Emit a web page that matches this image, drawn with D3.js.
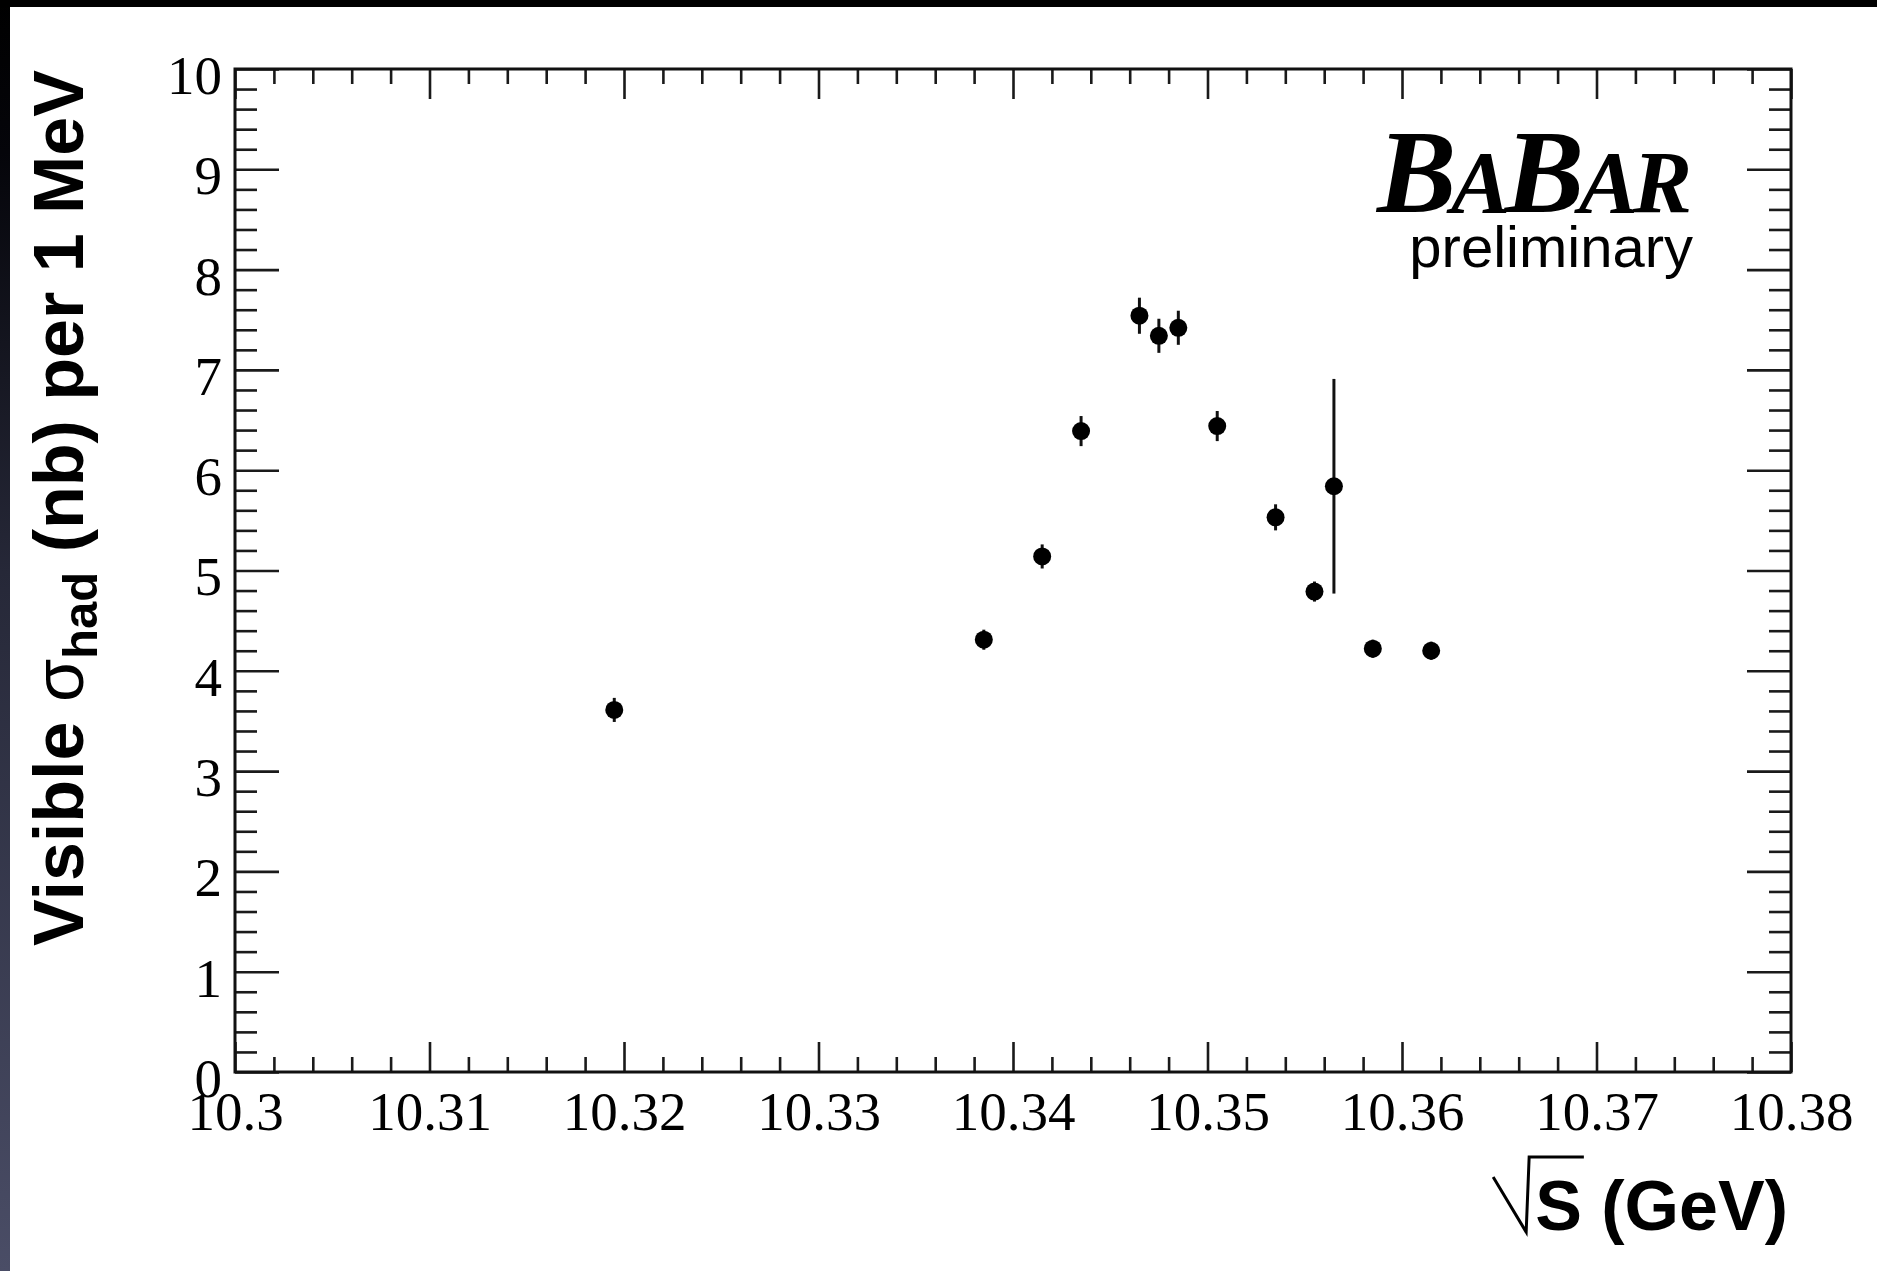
<!DOCTYPE html>
<html>
<head>
<meta charset="utf-8">
<script src="https://cdn.jsdelivr.net/npm/d3@7"></script>
<style>
  html, body { margin: 0; padding: 0; background: #fff; }
  svg { display: block; }
</style>
</head>
<body>
<script>
// ---- data ----
const energy = [10.3195, 10.3385, 10.3415, 10.3435, 10.3465, 10.3475, 10.3485, 10.3505, 10.3535, 10.3555, 10.3565, 10.3585, 10.3615];
const sigma  = [3.61, 4.31, 5.14, 6.39, 7.54, 7.34, 7.42, 6.44, 5.53, 4.79, 5.84, 4.22, 4.20];
const sigmaErr = [0.12, 0.10, 0.12, 0.15, 0.18, 0.17, 0.17, 0.15, 0.13, 0.10, 1.07, 0.09, 0.09];
const xTicks = [10.30, 10.31, 10.32, 10.33, 10.34, 10.35, 10.36, 10.37, 10.38];
const xTickLabels = ["10.3", "10.31", "10.32", "10.33", "10.34", "10.35", "10.36", "10.37", "10.38"];
const yTicks = [0, 1, 2, 3, 4, 5, 6, 7, 8, 9, 10];
const yTickLabels = ["0", "1", "2", "3", "4", "5", "6", "7", "8", "9", "10"];

const W = 1877, H = 1271;
const L = 235, R = 1791, T = 69, B = 1072;

const svg = d3.select("body").append("svg").attr("width", W).attr("height", H);

// background frame (presentation slide edges)
const defs = svg.append("defs");
const grad = defs.append("linearGradient").attr("id", "lg").attr("x1", 0).attr("y1", 0).attr("x2", 0).attr("y2", 1);
grad.append("stop").attr("offset", "0%").attr("stop-color", "#000");
grad.append("stop").attr("offset", "12%").attr("stop-color", "#05050a");
grad.append("stop").attr("offset", "45%").attr("stop-color", "#262838");
grad.append("stop").attr("offset", "100%").attr("stop-color", "#4a4d66");
svg.append("rect").attr("x", 0).attr("y", 0).attr("width", W).attr("height", H).attr("fill", "#fff");
svg.append("rect").attr("x", 0).attr("y", 0).attr("width", 10).attr("height", H).attr("fill", "url(#lg)");
svg.append("rect").attr("x", 0).attr("y", 0).attr("width", W).attr("height", 7).attr("fill", "#000");

const x = d3.scaleLinear().domain([10.30, 10.38]).range([L, R]);
const y = d3.scaleLinear().domain([0, 10]).range([B, T]);

const xMinor = d3.range(0, 41).map(i => 10.30 + i * 0.002).filter(v => !xTicks.some(t => Math.abs(t - v) < 1e-9));
const yMinor = d3.range(0, 51).map(i => i * 0.2).filter(v => !yTicks.some(t => Math.abs(t - v) < 1e-9));

const tickColor = "#1a1a1a";
function styleAxis(g) {
  g.select(".domain").remove();
  g.selectAll(".tick line").attr("stroke", tickColor).attr("stroke-width", 2.6);
  g.selectAll("text").attr("fill", "#000").style("font-family", "'Liberation Serif', 'Times New Roman', serif").style("font-size", "55px");
}

// bottom
svg.append("g").attr("transform", `translate(0,${B})`)
  .call(d3.axisBottom(x).tickValues(xTicks).tickFormat((d, i) => xTickLabels[i]).tickSizeInner(-30).tickSizeOuter(0).tickPadding(19))
  .call(styleAxis);
svg.append("g").attr("transform", `translate(0,${B})`)
  .call(d3.axisBottom(x).tickValues(xMinor).tickFormat("").tickSizeInner(-15).tickSizeOuter(0))
  .call(styleAxis);
// top
svg.append("g").attr("transform", `translate(0,${T})`)
  .call(d3.axisTop(x).tickValues(xTicks).tickFormat("").tickSizeInner(-30).tickSizeOuter(0))
  .call(styleAxis);
svg.append("g").attr("transform", `translate(0,${T})`)
  .call(d3.axisTop(x).tickValues(xMinor).tickFormat("").tickSizeInner(-15).tickSizeOuter(0))
  .call(styleAxis);
// left
const gl = svg.append("g").attr("transform", `translate(${L},0)`)
  .call(d3.axisLeft(y).tickValues(yTicks).tickFormat((d, i) => yTickLabels[i]).tickSizeInner(-44).tickSizeOuter(0).tickPadding(13))
  .call(styleAxis);
gl.selectAll("text").attr("dy", "0.445em");
svg.append("g").attr("transform", `translate(${L},0)`)
  .call(d3.axisLeft(y).tickValues(yMinor).tickFormat("").tickSizeInner(-22).tickSizeOuter(0))
  .call(styleAxis);
// right
svg.append("g").attr("transform", `translate(${R},0)`)
  .call(d3.axisRight(y).tickValues(yTicks).tickFormat("").tickSizeInner(-44).tickSizeOuter(0))
  .call(styleAxis);
svg.append("g").attr("transform", `translate(${R},0)`)
  .call(d3.axisRight(y).tickValues(yMinor).tickFormat("").tickSizeInner(-22).tickSizeOuter(0))
  .call(styleAxis);

// frame
svg.append("rect").attr("x", L).attr("y", T).attr("width", R - L).attr("height", B - T)
  .attr("fill", "none").attr("stroke", "#111").attr("stroke-width", 3);

// data
const pts = energy.map((e, i) => ({ e, s: sigma[i], err: sigmaErr[i] }));
const gd = svg.append("g");
gd.selectAll("line.err").data(pts).join("line").attr("class", "err")
  .attr("x1", d => x(d.e)).attr("x2", d => x(d.e))
  .attr("y1", d => y(d.s + d.err)).attr("y2", d => y(d.s - d.err))
  .attr("stroke", "#111").attr("stroke-width", 3);
gd.selectAll("circle").data(pts).join("circle")
  .attr("cx", d => x(d.e)).attr("cy", d => y(d.s)).attr("r", 9).attr("fill", "#000");

// BaBar logo
const logo = svg.append("text").attr("x", 1377).attr("y", 212)
  .style("font-family", "'Liberation Serif', 'Times New Roman', serif")
  .style("font-weight", "bold").style("font-style", "italic").attr("fill", "#000")
  .attr("textLength", 315).attr("lengthAdjust", "spacing");
[["B", 119], ["A", 89], ["B", 119], ["A", 89], ["R", 89]].forEach(([c, s]) => {
  logo.append("tspan").style("font-size", s + "px").text(c);
});
svg.append("text").attr("x", 1693).attr("y", 267).attr("text-anchor", "end")
  .style("font-family", "'Liberation Sans', Arial, sans-serif").style("font-size", "58px")
  .attr("fill", "#000").text("preliminary");

// y-axis title
const yt = svg.append("text").attr("transform", "translate(83,508) rotate(-90)")
  .attr("text-anchor", "middle")
  .style("font-family", "'Liberation Sans', Arial, sans-serif").style("font-size", "70px")
  .style("font-weight", "bold").attr("fill", "#000");
yt.append("tspan").text("Visible ");
yt.append("tspan").style("font-weight", "normal").text("σ");
yt.append("tspan").attr("dy", 14).style("font-size", "49px").text("had");
yt.append("tspan").attr("dy", -14).text(" (nb) per 1 MeV");

// x-axis title
const xt = svg.append("text").attr("x", 1788).attr("y", 1230).attr("text-anchor", "end")
  .style("font-family", "'Liberation Sans', Arial, sans-serif").style("font-size", "70px")
  .style("font-weight", "bold").attr("fill", "#000");
const sSpan = xt.append("tspan").text("S");
xt.append("tspan").text(" (GeV)");
const sb = sSpan.node().getExtentOfChar(0);
const sx = sb.x, sw = sb.width;
const topY = 1157, baseY = 1232;
svg.append("path")
  .attr("d", `M${sx - 42},${topY + 20} L${sx - 9},${baseY} L${sx - 6},${topY} L${sx + sw + 2},${topY}`)
  .attr("fill", "none").attr("stroke", "#000").attr("stroke-width", 3);
</script>
</body>
</html>
